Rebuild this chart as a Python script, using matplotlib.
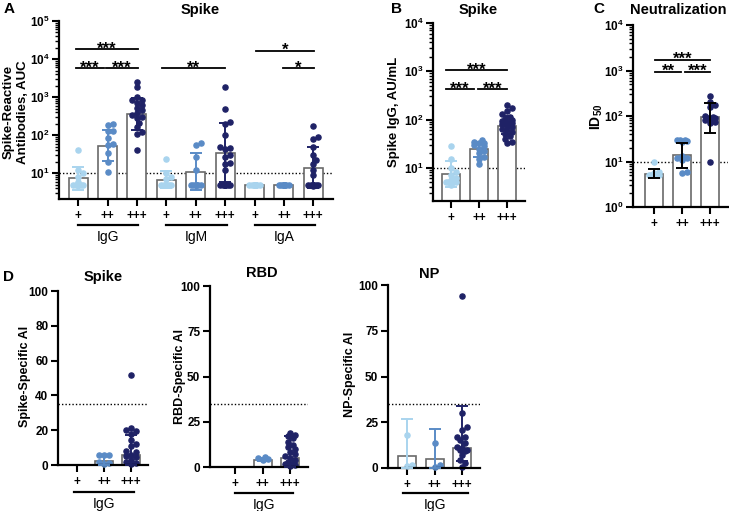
import numpy as np
import matplotlib
matplotlib.use('Agg')
import matplotlib.pyplot as plt
from matplotlib.ticker import LogLocator, NullFormatter, FuncFormatter, FixedLocator
import matplotlib.transforms as mtransforms

plt.rcParams['font.family'] = ['Liberation Sans', 'DejaVu Sans']
plt.rcParams['font.weight'] = 'bold'
plt.rcParams['axes.labelweight'] = 'bold'
plt.rcParams['mathtext.fontset'] = 'custom'
plt.rcParams['mathtext.rm'] = 'Liberation Sans:bold'
plt.rcParams['mathtext.it'] = 'Liberation Sans:bold'
plt.rcParams['mathtext.bf'] = 'Liberation Sans:bold'

LIGHT, MID, DARK = '#a9d4ee', '#5a8bc6', '#1f2266'
COLS3 = [LIGHT, MID, DARK]

# ---------------- DATA ----------------
tick_labels = ['+', '++', '+++']
isotypes_A = ['IgG', 'IgM', 'IgA']

# Panel A: Spike-reactive antibodies (AUC)
A_igg_1 = [40, 12, 10, 8, 6, 5, 5, 5, 5, 5, 5, 5, 5, 5]
A_igg_2 = [200, 190, 130, 125, 85, 60, 55, 35, 20, 11]
A_igg_3 = [2500, 1800, 1000, 850, 830, 700, 620, 510, 450, 380, 340, 300, 280, 210, 165, 120, 110, 40]
A_igm_1 = [24, 10, 8, 7, 5, 5, 5, 5, 5, 5, 5, 5, 5]
A_igm_2 = [62, 55, 27, 12, 5, 5, 5, 5, 5, 5, 5, 5]
A_igm_3 = [1800, 500, 220, 200, 100, 48, 45, 42, 30, 27, 18, 17, 12, 5, 5, 5, 5, 5, 5, 5, 5]
A_iga_1 = [5] * 14
A_iga_2 = [5] * 12
A_iga_3 = [175, 90, 80, 50, 30, 22, 17, 12, 9, 5, 5, 5, 5, 5, 5, 5, 5, 4.5]
A_bar = [7.3, 52, 355, 6.6, 11, 34, 5, 5, 13.5]
A_err_lo = [3.6, 21, 135, 4.0, 3.6, 5.9, 5, 5, 4.0]
A_err_hi = [14.4, 136, 940, 11.5, 34, 210, 5, 5, 48]

# Panel B: Spike IgG AU/mL
B_1 = [28, 15, 10, 8, 7, 6, 5.5, 5, 5, 5, 5, 4.5]
B_2 = [38, 35, 33, 32, 30, 28, 25, 22, 20, 17, 15, 12]
B_3 = [200, 170, 150, 130, 115, 105, 100, 95, 90, 85, 80, 75, 70, 65, 60, 55, 50, 45, 40, 35, 33]
B_bar = [7.5, 24, 75]
B_err_lo = [4.0, 17, 50]
B_err_hi = [14, 35, 120]

# Panel C: Neutralization ID50
C_1 = [10, 6, 5.5, 5, 5, 5, 5, 5]
C_2 = [30, 30, 29, 28, 27, 13, 12, 12, 11, 6, 5.5]
C_3 = [270, 200, 175, 155, 100, 95, 92, 90, 85, 80, 75, 70, 10]
C_bar = [5.4, 14, 95]
C_err_lo = [4.3, 7.2, 42]
C_err_hi = [6.8, 26, 195]

# Panel D: avidity index
D_spike_1 = []
D_spike_2 = [6, 6, 5.5, 2, 1, 0.5]
D_spike_3 = [52, 21, 20, 19.5, 18, 14.5, 12, 11, 8, 7.5, 6, 5, 4.5, 3, 2, 1, 0.5]
D_spike_bar = [0, 2.5, 6]
D_spike_err_hi = [0, 6, 17]
D_spike_err_lo = [0, 0, 0]

D_rbd_1 = []
D_rbd_2 = [5.5, 5, 4.5, 4]
D_rbd_3 = [19, 17.5, 17, 16, 14, 12, 11, 10, 8.5, 7, 6, 5, 4, 3, 2, 1.5, 1, 0.5]
D_rbd_bar = [0, 4, 4.8]
D_rbd_err_hi = [0, 5, 17.4]
D_rbd_err_lo = [0, 3.5, 0]

D_np_1 = [18, 1.6, 1]
D_np_2 = [13.6, 1.6, 0.8]
D_np_3 = [94, 30, 22.5, 20.5, 17, 17, 15.5, 13.5, 11.5, 11, 10, 10, 9.5, 7, 4.5, 3, 0.7]
D_np_bar = [6.8, 4.8, 10.8]
D_np_err_hi = [26.9, 21.2, 34]
D_np_err_lo = [0, 0, 4]

# ---------------- LAYOUT ----------------
W, H = 729, 511
fig = plt.figure(figsize=(W / 100, H / 100), dpi=100)


def add_ax(x0, y0, x1, y1):
    return fig.add_axes([x0 / W, 1 - y1 / H, (x1 - x0) / W, (y1 - y0) / H])


def ftext(x, y, s, **kw):
    fig.text(x / W, 1 - y / H, s, **kw)


def style(ax, log):
    for s in ['top', 'right']:
        ax.spines[s].set_visible(False)
    for s in ['left', 'bottom']:
        ax.spines[s].set_linewidth(1.6)
    ax.tick_params(axis='both', which='major', length=5, width=1.5,
                   labelsize=8.5, direction='out', pad=2)
    ax.tick_params(axis='x', labelsize=8.5, pad=3)
    if log:
        ax.set_yscale('log')
        ax.yaxis.set_major_locator(LogLocator(base=10, numticks=12))
        ax.yaxis.set_minor_locator(LogLocator(base=10, subs=np.arange(2, 10), numticks=12))
        ax.yaxis.set_minor_formatter(NullFormatter())
        ax.yaxis.set_major_formatter(FuncFormatter(
            lambda v, p: r'$10^{%d}$' % int(round(np.log10(v)))))
        ax.tick_params(axis='y', which='minor', length=3, width=1.0)


def swarm(ax, xc, vals, d=4.6, maxw=7.5):
    vals = np.asarray(vals, float)
    if len(vals) == 0:
        return np.array([])
    pts = ax.transData.transform(np.column_stack([np.full(len(vals), xc), vals]))
    ys = pts[:, 1]
    ppu = (ax.transData.transform((xc + 1, vals[0]))[0] - pts[0, 0])
    step = d * 0.55
    cands = [0.0]
    k = 1
    while k * step <= maxw:
        cands += [k * step, -k * step]
        k += 1
    placed = []
    offs = np.zeros(len(vals))
    for i in np.argsort(vals):
        best, bestscore = 0.0, -1
        for c in cands:
            dist = min([np.hypot(c - px, ys[i] - py) for px, py in placed], default=np.inf)
            if dist >= d:
                best = c
                break
            if dist > bestscore:
                bestscore, best = dist, c
        offs[i] = best
        placed.append((best, ys[i]))
    return xc + offs / ppu


def draw_group(ax, xs, groups, bars, lo, hi, colors, errcolor=None, bw=0.65):
    for x, vals, b, l, h, c in zip(xs, groups, bars, lo, hi, colors):
        if len(vals) == 0:
            continue
        ax.bar(x, b, width=bw, facecolor='white', edgecolor='#6a6a6a', linewidth=1.2, zorder=1)
        px = swarm(ax, x, vals)
        ax.plot(px, vals, 'o', ms=3.7, color=c, mec=c, zorder=2, clip_on=False)
        ec = errcolor if errcolor else c
        ax.errorbar([x], [b], yerr=[[b - l], [h - b]], fmt='none', ecolor=ec,
                    elinewidth=1.4, capsize=4.5, capthick=1.4, zorder=3, clip_on=False)


def sig(ax, x0, x1, y, txt):
    ax.plot([x0, x1], [y, y], color='k', lw=1.3, clip_on=False, zorder=4)
    ax.annotate(txt, xy=((x0 + x1) / 2, y), xytext=(0, -3), textcoords='offset points',
                ha='center', va='baseline', fontsize=12, fontweight='bold', annotation_clip=False)


def group_line(ax, x0, x1, yline, ytext, label):
    tr = mtransforms.blended_transform_factory(ax.transData, ax.transAxes)
    ax.plot([x0, x1], [yline, yline], color='k', lw=1.6, transform=tr, clip_on=False)
    ax.text((x0 + x1) / 2, ytext, label, transform=tr, ha='center', va='center',
            fontsize=10, fontweight='normal')


# ---------- Panel A ----------
axA = add_ax(59, 21, 333, 199)
style(axA, True)
axA.set_xlim(-0.65, 8.67)
axA.set_ylim(2.1, 1e5)
xA = np.arange(9)
draw_group(axA, xA, [A_igg_1, A_igg_2, A_igg_3, A_igm_1, A_igm_2, A_igm_3, A_iga_1, A_iga_2, A_iga_3],
           A_bar, A_err_lo, A_err_hi, COLS3 * 3)
axA.axhline(10, ls=(0, (1, 1.5)), color='k', lw=1.0, zorder=0.5)
axA.set_xticks(xA)
axA.set_xticklabels(tick_labels * 3)
for g, lab in enumerate(isotypes_A):
    group_line(axA, 3 * g, 3 * g + 2.05, -0.146, -0.215, lab)
sig(axA, -0.07, 2.04, 18000, '***')
sig(axA, -0.07, 0.88, 5700, '***')
sig(axA, 0.95, 2.04, 5700, '***')
sig(axA, 2.86, 5.0, 5700, '**')
sig(axA, 6.05, 8.03, 16200, '*')
sig(axA, 6.97, 8.03, 5700, '*')
ftext(16, 112, 'Spike-Reactive\nAntibodies, AUC', rotation=90, ha='center', va='center',
      fontsize=9.5, multialignment='center', fontweight='bold')
ftext(200, 10, 'Spike', ha='center', va='center', fontsize=10.5, fontweight='bold')
ftext(9, 9, 'A', ha='center', va='center', fontsize=11, fontweight='bold')

# ---------- Panel B ----------
axB = add_ax(433, 23, 525, 201)
style(axB, True)
axB.set_xlim(-0.64, 2.64)
axB.set_ylim(2.05, 1e4)
xB = np.arange(3)
draw_group(axB, xB, [B_1, B_2, B_3], B_bar, B_err_lo, B_err_hi, COLS3)
axB.axhline(10, ls=(0, (1, 1.5)), color='k', lw=1.0, zorder=0.5)
axB.set_xticks(xB)
axB.set_xticklabels(tick_labels)
sig(axB, -0.18, 2.0, 1050, '***')
sig(axB, -0.18, 0.82, 420, '***')
sig(axB, 0.96, 2.0, 420, '***')
ftext(394, 112, 'Spike IgG, AU/mL', rotation=90, ha='center', va='center', fontsize=9.5,
      fontweight='bold')
ftext(478, 10, 'Spike', ha='center', va='center', fontsize=10.5, fontweight='bold')
ftext(396, 9, 'B', ha='center', va='center', fontsize=11, fontweight='bold')

# ---------- Panel C ----------
axC = add_ax(633, 25, 728, 207)
style(axC, True)
axC.set_xlim(-0.75, 2.64)
axC.set_ylim(1, 1e4)
xC = np.arange(3)
draw_group(axC, xC, [C_1, C_2, C_3], C_bar, C_err_lo, C_err_hi, COLS3, errcolor='black')
axC.axhline(10, ls=(0, (1, 1.5)), color='k', lw=1.0, zorder=0.5)
axC.set_xticks(xC)
axC.set_xticklabels(tick_labels)
sig(axC, 0.04, 2.0, 1700, '***')
sig(axC, 0.04, 0.96, 930, '**')
sig(axC, 1.1, 2.0, 930, '***')
ftext(597, 117, r'$\mathregular{ID_{50}}$', rotation=90, ha='center', va='center', fontsize=10)
ftext(678, 10, 'Neutralization', ha='center', va='center', fontsize=10.5, fontweight='bold')
ftext(599, 9, 'C', ha='center', va='center', fontsize=11, fontweight='bold')

# ---------- Panel D ----------
def panel_D(box, xlim, yticks, groups, bars, lo, hi, title, tpos, ylabel, ylpos, gl):
    ax = add_ax(*box)
    style(ax, False)
    ax.set_xlim(*xlim)
    ax.set_ylim(0, 100)
    ax.yaxis.set_major_locator(FixedLocator(yticks))
    x = np.arange(3)
    draw_group(ax, x, groups, bars, lo, hi, COLS3)
    ax.axhline(35, ls=(0, (1, 1.5)), color='k', lw=1.0, zorder=0.5)
    ax.set_xticks(x)
    ax.set_xticklabels(tick_labels)
    group_line(ax, gl[0], gl[1], gl[2], gl[3], 'IgG')
    ftext(tpos[0], tpos[1], title, ha='center', va='center', fontsize=10.5, fontweight='bold')
    ftext(ylpos[0], ylpos[1], ylabel, rotation=90, ha='center', va='center', fontsize=9,
          fontweight='bold')
    return ax


panel_D((58, 291, 148, 465), (-0.7, 2.63), [0, 20, 40, 60, 80, 100],
        [D_spike_1, D_spike_2, D_spike_3], D_spike_bar, D_spike_err_lo, D_spike_err_hi,
        'Spike', (103, 277), 'Spike-Specific AI', (25, 376), (-0.1, 2.1, -0.155, -0.225))
panel_D((210, 286, 308, 467), (-0.91, 2.65), [0, 25, 50, 75, 100],
        [D_rbd_1, D_rbd_2, D_rbd_3], D_rbd_bar, D_rbd_err_lo, D_rbd_err_hi,
        'RBD', (262, 273), 'RBD-Specific AI', (180, 376), (0.0, 2.1, -0.144, -0.21))
panel_D((388, 285, 480, 468), (-0.69, 2.65), [0, 25, 50, 75, 100],
        [D_np_1, D_np_2, D_np_3], D_np_bar, D_np_err_lo, D_np_err_hi,
        'NP', (429, 274), 'NP-Specific AI', (350, 374), (-0.15, 2.2, -0.137, -0.2))
ftext(9, 277, 'D', ha='center', va='center', fontsize=11, fontweight='bold')

fig.savefig('out.png', dpi=100)
